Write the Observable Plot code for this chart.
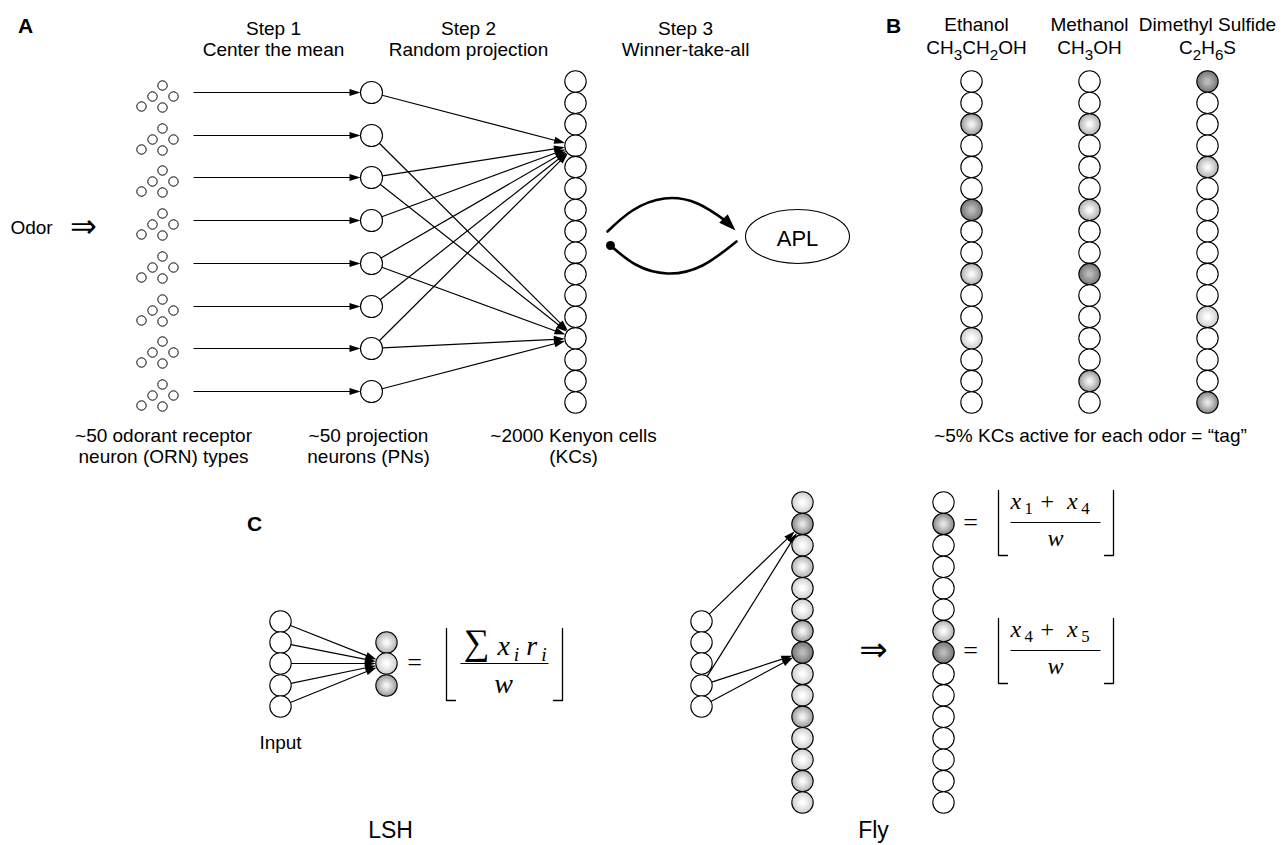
<!DOCTYPE html>
<html><head><meta charset="utf-8">
<script src="https://cdn.jsdelivr.net/npm/d3@7"></script>
<script src="https://cdn.jsdelivr.net/npm/@observablehq/plot@0.6"></script>
<style>body{margin:0;background:#fff;}</style>
</head><body><div id="chart"></div>
<script>
const W = 1286, H = 845;
const SANS = "'Liberation Sans', Arial, Helvetica, sans-serif";
const SERIF = "'Liberation Serif', 'Times New Roman', serif";
const SYM = "'DejaVu Sans', sans-serif";

// ---------- Panel A ----------
const ornRowsY = [92, 135, 177, 220, 263, 306, 348, 391];
const ornCluster = [[162, -7], [152, 4], [173, 4], [141, 14], [162, 15]];
const ornArrowStartX = 193;
const pnX = 371;
const kcX = 575, kcTopY = 81, kcStep = 21.4, kcCount = 16;
const pnToKc = [[1,4],[2,13],[3,4],[3,13],[4,4],[5,4],[5,13],[6,4],[7,4],[7,13],[8,13]];
const aplCenter = [{x: 797, y: 236}];
const upperArc = [[607,231],[632,210],[664,198],[697,203],[726,221]];
const upperArcTip = [{x: 735, y: 230, dx: 9, dy: 9}];
const lowerArc = [[610,245],[635,264],[667,273],[702,265],[736,241]];

// ---------- Panel B ----------
const odorNames = ["Ethanol", "Methanol", "Dimethyl Sulfide"];
const odorFormulas = ["CH_3CH_2OH", "CH_3OH", "C_2H_6S"];
const odorColumnX = [971, 1089, 1207];
const odorLabelX = [976, 1089, 1207];
const odorShades = [
  [0,0,3,0,0,0,5,0,0,2,0,0,1,0,0,0],
  [0,0,2,0,0,0,2,0,0,5,0,0,0,0,3,0],
  [5,0,0,0,2,0,0,0,0,0,0,1,0,0,0,4]
];

// ---------- Panel C ----------
const inputY = [621, 642, 663, 685, 706];
const lshInputX = 280, lshOutX = 386;
const lshOutShades = [2, 1, 3];
const flyInputX = 701, flyKcX = 802, flyOutX = 943, flyTopY = 502, flyStep = 21.43;
const flyKcShades = [1,4,1,2,1,1,3,5,1,1,3,1,1,2,1];
const flyOutShades = [0,4,0,0,0,0,2,5,0,0,0,0,0,0,0];
const flyLinks = [[1,2],[4,2],[4,8],[5,8]];
const brackets = [
  {l: 446, r: 562, top: 628, bot: 700},
  {l: 998, r: 1113, top: 490, bot: 555},
  {l: 998, r: 1113, top: 618, bot: 683}
];
const fractionBars = [
  {x1: 460, x2: 548, y: 663},
  {x1: 1010, x2: 1100, y: 522},
  {x1: 1010, x2: 1100, y: 650}
];

// ---------- Text ----------
const labels = [
  {t: "A", x: 25, y: 32, size: 21, weight: "bold"},
  {t: "B", x: 893, y: 32, size: 21, weight: "bold"},
  {t: "C", x: 254, y: 530, size: 21, weight: "bold"},
  {t: "Step 1\nCenter the mean", x: 273, y: 55},
  {t: "Step 2\nRandom projection", x: 468, y: 55},
  {t: "Step 3\nWinner-take-all", x: 685, y: 55},
  {t: "Odor", x: 31, y: 233},
  {t: "~50 odorant receptor\nneuron (ORN) types", x: 163, y: 462},
  {t: "~50 projection\nneurons (PNs)", x: 368, y: 462},
  {t: "~2000 Kenyon cells\n(KCs)", x: 573, y: 462},
  {t: "APL", x: 797, y: 245, size: 22},
  {t: "~5% KCs active for each odor = \u201ctag\u201d", x: 1090, y: 441},
  {t: "Input", x: 280, y: 748},
  {t: "LSH", x: 390, y: 837, size: 23},
  {t: "Fly", x: 873, y: 837, size: 23}
];
const symbols = [
  {t: "\u21d2", x: 83, y: 236, size: 32},
  {t: "\u21d2", x: 873, y: 660, size: 34}
];
const mathTexts = [
  {t: "=", x: 414, y: 670, size: 26, style: "normal"},
  {t: "\u2211", x: 476, y: 653, size: 36, style: "normal"},
  {t: "x_i r_i", x: 497, y: 654, size: 28, anchor: "start"},
  {t: "w", x: 503, y: 692, size: 28},
  {t: "=", x: 970, y: 530, size: 26, style: "normal"},
  {t: "x_1 +\u2002x_4", x: 1010, y: 508, size: 24, anchor: "start"},
  {t: "w", x: 1055, y: 545, size: 24},
  {t: "=", x: 970, y: 658, size: 26, style: "normal"},
  {t: "x_4 +\u2002x_5", x: 1010, y: 636, size: 24, anchor: "start"},
  {t: "w", x: 1055, y: 673, size: 24}
];

// ---------- Shading ----------
const shadeStops = {
  1: ["#fdfdfd", "#cdcdcd"],
  2: ["#f8f8f8", "#b0b0b0"],
  3: ["#f0f0f0", "#999999"],
  4: ["#e2e2e2", "#868686"],
  5: ["#b9b9b9", "#747474"]
};
const shadeFill = s => s ? `url(#shade${s})` : "white";

// ---------- Geometry helpers ----------
const rKC = 10.7, rPN = 11, rORN = 4.7;
const kcY = i => kcTopY + i * kcStep;
function edge(ax, ay, ar, bx, by, br) {
  const dx = bx - ax, dy = by - ay, L = Math.hypot(dx, dy), ux = dx / L, uy = dy / L;
  const tx = bx - ux * br, ty = by - uy * br;
  return {x1: ax + ux * ar, y1: ay + uy * ar, x2: tx - ux * 4, y2: ty - uy * 4,
          tx, ty, angle: Math.atan2(ux, -uy) * 180 / Math.PI};
}
const head = (len, hw) => ({draw(ctx) { ctx.moveTo(0, 0); ctx.lineTo(-hw, len); ctx.lineTo(hw, len); ctx.closePath(); }});
const ellipseSym = (rx, ry) => ({draw(ctx) {
  const k = 0.5523;
  ctx.moveTo(rx, 0);
  ctx.bezierCurveTo(rx, ry * k, rx * k, ry, 0, ry);
  ctx.bezierCurveTo(-rx * k, ry, -rx, ry * k, -rx, 0);
  ctx.bezierCurveTo(-rx, -ry * k, -rx * k, -ry, 0, -ry);
  ctx.bezierCurveTo(rx * k, -ry, rx, -ry * k, rx, 0);
  ctx.closePath();
}});

const ornDots = ornRowsY.flatMap(y => ornCluster.map(([cx, oy]) => ({x: cx, y: y + oy})));
const pnDots = ornRowsY.map(y => ({x: pnX, y}));
const bigDots = [
  ...d3.range(kcCount).map(i => ({x: kcX, y: kcY(i), shade: 0})),
  ...odorColumnX.flatMap((x, c) => odorShades[c].map((s, i) => ({x, y: kcY(i), shade: s}))),
  ...inputY.map(y => ({x: lshInputX, y, shade: 0})),
  ...lshOutShades.map((s, i) => ({x: lshOutX, y: inputY[i + 1], shade: s})),
  ...inputY.map(y => ({x: flyInputX, y, shade: 0})),
  ...flyKcShades.map((s, i) => ({x: flyKcX, y: flyTopY + i * flyStep, shade: s})),
  ...flyOutShades.map((s, i) => ({x: flyOutX, y: flyTopY + i * flyStep, shade: s}))
];
const edges = [
  ...ornRowsY.map(y => edge(ornArrowStartX, y, 0, pnX, y, rPN)),
  ...pnToKc.map(([p, k]) => edge(pnX, ornRowsY[p - 1], rPN, kcX, kcY(k - 1), rKC)),
  ...inputY.map(y => edge(lshInputX, y, rKC, lshOutX, inputY[2], rKC)),
  ...flyLinks.map(([a, b]) => edge(flyInputX, inputY[a - 1], rKC, flyKcX, flyTopY + (b - 1) * flyStep, rKC))
];
const bracketPts = brackets.flatMap((b, i) => [
  {id: `L${i}`, x: b.l, y: b.top}, {id: `L${i}`, x: b.l, y: b.bot}, {id: `L${i}`, x: b.l + 9, y: b.bot},
  {id: `R${i}`, x: b.r, y: b.top}, {id: `R${i}`, x: b.r, y: b.bot}, {id: `R${i}`, x: b.r - 9, y: b.bot}
]);

const textMark = (d, fam, defStyle) => Plot.text([d], {
  x: "x", y: "y", text: "t", fontSize: d.size || 19, fontFamily: fam,
  fontWeight: d.weight || "normal", fontStyle: d.style || defStyle,
  textAnchor: d.anchor || "middle", lineAnchor: "bottom", lineHeight: 1.105, fill: "black"
});

const plot = Plot.plot({
  width: W, height: H, margin: 0,
  x: {domain: [0, W], range: [0, W], axis: null},
  y: {domain: [0, H], range: [0, H], axis: null},
  color: {type: "identity"},
  style: {background: "white", fontFamily: SANS},
  marks: [
    Plot.link(edges, {x1: "x1", y1: "y1", x2: "x2", y2: "y2", stroke: "black", strokeWidth: 1.2}),
    Plot.dot(edges, {x: "tx", y: "ty", rotate: "angle", symbol: head(11, 3.6), fill: "black", stroke: "none"}),
    Plot.dot(ornDots, {x: "x", y: "y", r: rORN, fill: "white", stroke: "black", strokeWidth: 1}),
    Plot.dot(pnDots, {x: "x", y: "y", r: rPN, fill: "white", stroke: "black", strokeWidth: 1.1}),
    Plot.dot(bigDots, {x: "x", y: "y", r: rKC, fill: d => shadeFill(d.shade), stroke: "black", strokeWidth: 1.1}),
    Plot.line(upperArc, {x: d => d[0], y: d => d[1], curve: "natural", stroke: "black", strokeWidth: 2.6}),
    Plot.dot(upperArcTip, {x: "x", y: "y", rotate: d => Math.atan2(d.dx, -d.dy) * 180 / Math.PI, symbol: head(17, 6), fill: "black", stroke: "none"}),
    Plot.line(lowerArc, {x: d => d[0], y: d => d[1], curve: "natural", stroke: "black", strokeWidth: 2.6}),
    Plot.dot([lowerArc[0]], {x: d => d[0], y: d => d[1], r: 4.5, fill: "black", stroke: "none"}),
    Plot.dot(aplCenter, {x: "x", y: "y", symbol: ellipseSym(52, 27), fill: "white", stroke: "black", strokeWidth: 1.1}),
    Plot.line(bracketPts, {x: "x", y: "y", z: "id", stroke: "black", strokeWidth: 1.3}),
    Plot.link(fractionBars, {x1: "x1", x2: "x2", y1: "y", y2: "y", stroke: "black", strokeWidth: 1.1}),
    ...labels.map(d => textMark(d, SANS, "normal")),
    ...odorNames.map((t, i) => textMark({t, x: odorLabelX[i], y: 30}, SANS, "normal")),
    ...odorFormulas.map((t, i) => textMark({t, x: odorLabelX[i], y: 53}, SANS, "normal")),
    ...symbols.map(d => textMark(d, SYM, "normal")),
    ...mathTexts.map(d => textMark(d, SERIF, "italic"))
  ]
});

// gradient definitions for shaded cells
const defs = d3.select(plot).insert("defs", ":first-child");
for (const [k, [c0, c1]] of Object.entries(shadeStops)) {
  const g = defs.append("radialGradient").attr("id", `shade${k}`).attr("cx", "50%").attr("cy", "50%").attr("r", "50%");
  g.append("stop").attr("offset", "0%").attr("stop-color", c0);
  g.append("stop").attr("offset", "18%").attr("stop-color", c0);
  g.append("stop").attr("offset", "100%").attr("stop-color", c1);
}

// subscripts: "_c" marks a subscript character
for (const t of plot.querySelectorAll("text")) {
  if (t.children.length || !t.textContent.includes("_")) continue;
  const g = t.closest("g");
  const italic = g && g.getAttribute("font-style") === "italic";
  const s = t.textContent; t.textContent = "";
  let low = false;
  for (let i = 0; i < s.length; i++) {
    let seg, sub = false;
    if (s[i] === "_") { seg = s[i + 1]; i++; sub = true; }
    else { let j = i; while (j < s.length && s[j] !== "_") j++; seg = s.slice(i, j); i = j - 1; }
    const ts = document.createElementNS("http://www.w3.org/2000/svg", "tspan");
    ts.textContent = seg;
    if (sub) {
      ts.setAttribute("font-size", italic ? "0.7em" : "0.8em");
      ts.setAttribute("dy", italic ? "0.32em" : "0.44em");
      if (italic) { ts.setAttribute("dx", "0.2em"); if (/\d/.test(seg)) ts.setAttribute("font-style", "normal"); }
      low = true;
    } else if (low) {
      ts.setAttribute("dy", italic ? "-0.224em" : "-0.352em");
      low = false;
    }
    t.appendChild(ts);
  }
}

document.getElementById("chart").appendChild(plot);
</script>
</body></html>
